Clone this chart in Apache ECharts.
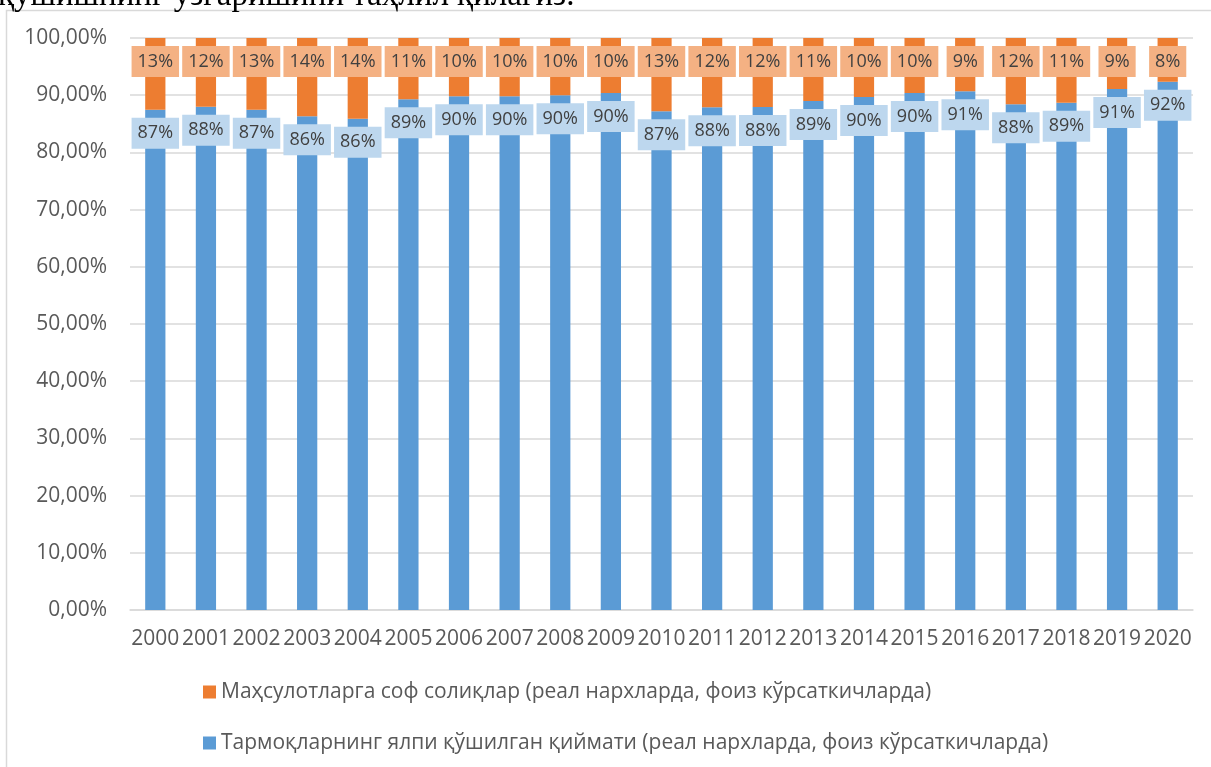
<!DOCTYPE html>
<html>
<head>
<meta charset="utf-8">
<script src="https://cdn.jsdelivr.net/npm/echarts@6/dist/echarts.min.js"></script>
<style>
  html, body { margin: 0; padding: 0; background: #fff; }
  #chart { width: 1211px; height: 767px; }
</style>
</head>
<body>
<div id="chart"></div>
<script>
// йиллар
const years = ['2000', '2001', '2002', '2003', '2004', '2005', '2006', '2007', '2008', '2009', '2010',
  '2011', '2012', '2013', '2014', '2015', '2016', '2017', '2018', '2019', '2020'];
// тармоқларнинг ялпи қўшилган қиймати, %
const gvaShare = [87.45, 88.0, 87.45, 86.3, 85.9, 89.3, 89.8, 89.8, 90.0, 90.4, 87.2,
  87.9, 87.95, 89.0, 89.7, 90.4, 90.7, 88.4, 88.7, 91.1, 92.35];
// маҳсулотларга соф солиқлар, %
const taxShare = [12.55, 12.0, 12.55, 13.7, 14.1, 10.7, 10.2, 10.2, 10.0, 9.6, 12.8,
  12.1, 12.05, 11.0, 10.3, 9.6, 9.3, 11.6, 11.3, 8.9, 7.65];
const yTicks = [0, 10, 20, 30, 40, 50, 60, 70, 80, 90, 100];

const taxName = 'Маҳсулотларга соф солиқлар (реал нархларда, фоиз кўрсаткичларда)';
const gvaName = 'Тармоқларнинг ялпи қўшилган қиймати (реал нархларда, фоиз кўрсаткичларда)';

const FONT = '"Open Sans", "Noto Sans", sans-serif';

const barLabel = (bg) => ({
  show: true,
  position: 'insideTop',
  distance: 8,
  formatter: (p) => Math.round(p.value) + '%',
  backgroundColor: bg,
  color: '#404040',
  fontFamily: FONT,
  fontSize: 18,
  lineHeight: 19,
  padding: [6, 6]
});

const chart = echarts.init(document.getElementById('chart'));
chart.setOption({
  animation: false,
  graphic: [
    {
      type: 'rect',
      shape: { x: 6.5, y: 10.5, width: 1300, height: 800 },
      style: { fill: 'none', stroke: '#d9d9d9', lineWidth: 1.5 },
      silent: true
    },
    {
      type: 'text',
      style: {
        x: -2,
        y: 13,
        text: 'қўшишнинг ўзгаришини таҳлил қилагиз.',
        font: '33px "Liberation Serif", "DejaVu Serif", serif',
        fill: '#000',
        verticalAlign: 'bottom'
      },
      silent: true
    }
  ],
  grid: { left: 130, right: 18, top: 38, bottom: 157 },
  legend: {
    orient: 'vertical',
    left: 198,
    top: 676,
    itemWidth: 13,
    itemHeight: 13,
    itemGap: 29,
    icon: 'rect',
    data: [taxName, gvaName],
    textStyle: { color: '#595959', fontFamily: FONT, fontSize: 21, lineHeight: 22 }
  },
  xAxis: {
    type: 'category',
    data: years,
    axisLine: { lineStyle: { color: '#d9d9d9', width: 1.5 } },
    axisTick: { show: false },
    axisLabel: { color: '#595959', fontFamily: FONT, fontSize: 21, margin: 19, interval: 0 }
  },
  yAxis: {
    type: 'value',
    min: yTicks[0],
    max: yTicks[yTicks.length - 1],
    interval: 10,
    axisLine: { show: false },
    axisTick: { show: false },
    splitLine: { lineStyle: { color: '#d9d9d9', width: 1.5 } },
    axisLabel: {
      color: '#595959',
      fontFamily: FONT,
      fontSize: 21,
      margin: 23,
      formatter: (v) => v.toFixed(2).replace('.', ',') + '%'
    }
  },
  series: [
    {
      name: gvaName,
      type: 'bar',
      stack: 'total',
      barWidth: '40%',
      data: gvaShare,
      itemStyle: { color: '#5B9BD5' },
      label: barLabel('#BDD7EE')
    },
    {
      name: taxName,
      type: 'bar',
      stack: 'total',
      barWidth: '40%',
      data: taxShare,
      itemStyle: { color: '#ED7D31' },
      label: barLabel('#F4B183')
    }
  ]
});
</script>
</body>
</html>
